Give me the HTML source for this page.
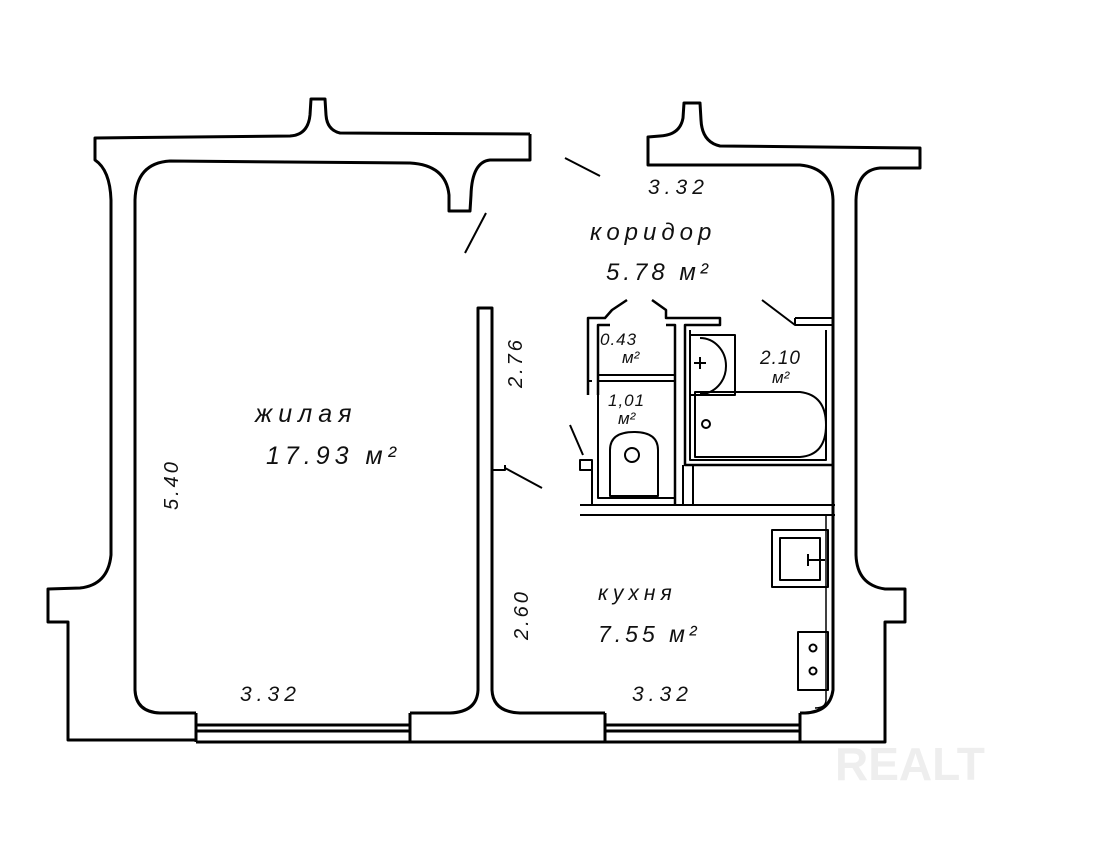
<!DOCTYPE html>
<html><head><meta charset="utf-8"><style>
html,body{margin:0;padding:0;background:#fff}
svg{display:block}
text{font-family:"Liberation Sans",sans-serif;font-style:italic;fill:#111}
</style></head><body>
<svg width="1100" height="841" viewBox="0 0 1100 841" xmlns="http://www.w3.org/2000/svg">
<g fill="none" stroke="#000" stroke-width="3" stroke-linejoin="round">
<path d="M530,134 L340,133 Q327,130 326,115 L325,99 L311,99 L310,115 Q308,135 290,136 L95,138 L95,160 Q110,170 111,200 L111,555 Q108,585 80,588 L48,589 L48,622 L68,622 L68,740 L196,740"/>
<path d="M530,134 L530,160 L490,160 Q472,162 471,195 L470,211 L449,211 L449,195 Q446,165 410,163 L170,161 Q136,163 135,200 L135,690 Q136,712 160,713 L196,713"/>
<path d="M196,713 L196,742 M410,713 L410,742 M196,725 L410,725 M196,731 L410,731 M196,742 L410,742"/>
<path d="M410,713 L450,713 Q477,712 478,690 L478,308 L492,308 L492,690 Q493,712 520,713 L605,713"/>
<path d="M410,742 L605,742 M605,713 L605,742 M800,713 L800,742 M605,725 L800,725 M605,731 L800,731 M605,742 L800,742"/>
<path d="M800,742 L885,742 L885,622 L905,622 L905,589 L885,589 Q857,585 856,555 L856,200 Q857,170 880,168 L920,168 L920,148 L720,146 Q702,142 701,120 L700,103 L684,103 L683,118 Q680,135 660,136 L648,137 L648,165 L800,165 Q832,168 833,200 L833,690 Q830,712 805,713 L800,713"/>
<path d="M565,158 L600,176 M486,213 L465,253" stroke-width="2"/>
<path d="M588,395 L588,318 L605,318 L612,310 L627,300 M652,300 L666,310 L666,318 L720,318 L720,325 L685,325 L685,465 L833,465 M598,395 L598,325 L610,325 M666,325 L675,325 L675,505" stroke-width="2.5"/>
<path d="M598,375 L675,375 M598,381 L675,381 M598,381 L598,498 L675,498 M588,381 L592,381 M580,505 L835,505 M580,515 L835,515 M683,465 L683,505 M693,465 L693,505" stroke-width="2"/>
<path d="M690,330 L690,460 L826,460 L826,330 M795,325 L833,325 M795,318 L833,318 M795,318 L795,325 L762,300" stroke-width="2"/>
<path d="M592,465 L592,505 M580,460 L592,460 L592,470 L580,470 Z M583,455 L570,425" stroke-width="2"/>
<path d="M505,465 L505,470 L492,470 M505,468 L542,488" stroke-width="2"/>
<path d="M610,496 L610,450 Q610,432 634,432 Q658,432 658,450 L658,496 Z" stroke-width="2"/>
<circle cx="632" cy="455" r="7" stroke-width="2"/>
<path d="M690,335 L735,335 L735,395 L690,395 Z" stroke-width="2"/>
<path d="M700,338 A26,28 0 0 1 700,394" stroke-width="2"/>
<path d="M694,363 L706,363 M700,357 L700,369" stroke-width="2"/>
<path d="M695,392 L800,392 Q826,395 826,425 Q826,455 800,457 L695,457 Z" stroke-width="2"/>
<circle cx="706" cy="424" r="4" stroke-width="2"/>
<path d="M772,530 L828,530 L828,587 L772,587 Z M780,538 L820,538 L820,580 L780,580 Z M808,560 L825,560 M808,554 L808,566" stroke-width="2"/>
<path d="M798,632 L828,632 L828,690 L798,690 Z" stroke-width="2"/>
<circle cx="813" cy="648" r="3.5" stroke-width="2"/>
<circle cx="813" cy="671" r="3.5" stroke-width="2"/>
<path d="M826,515 L826,700 Q826,708 815,708" stroke-width="1.5"/>
</g>
<text x="648" y="194" font-size="21" letter-spacing="5">3.32</text>
<text x="590" y="240" font-size="24" letter-spacing="5">коридор</text>
<text x="606" y="280" font-size="24" letter-spacing="4">5.78 м²</text>
<text x="600" y="345" font-size="17" letter-spacing="1">0.43</text>
<text x="622" y="363" font-size="17">м²</text>
<text x="760" y="364" font-size="19" letter-spacing="1">2.10</text>
<text x="772" y="383" font-size="17">м²</text>
<text x="608" y="406" font-size="17" letter-spacing="1">1,01</text>
<text x="618" y="424" font-size="17">м²</text>
<text x="255" y="422" font-size="25" letter-spacing="6">жилая</text>
<text x="266" y="464" font-size="25" letter-spacing="5">17.93 м²</text>
<text x="598" y="600" font-size="21" letter-spacing="5">кухня</text>
<text x="598" y="642" font-size="23" letter-spacing="4">7.55 м²</text>
<text x="240" y="701" font-size="21" letter-spacing="5">3.32</text>
<text x="632" y="701" font-size="21" letter-spacing="5">3.32</text>
<text font-size="20" letter-spacing="3" transform="translate(178,510) rotate(-90)">5.40</text>
<text font-size="20" letter-spacing="3" transform="translate(522,388) rotate(-90)">2.76</text>
<text font-size="20" letter-spacing="3" transform="translate(528,640) rotate(-90)">2.60</text>
<text x="835" y="780" font-size="46" style="font-style:normal;font-weight:bold;fill:#eeeeee">REALT</text>
</svg>
</body></html>
